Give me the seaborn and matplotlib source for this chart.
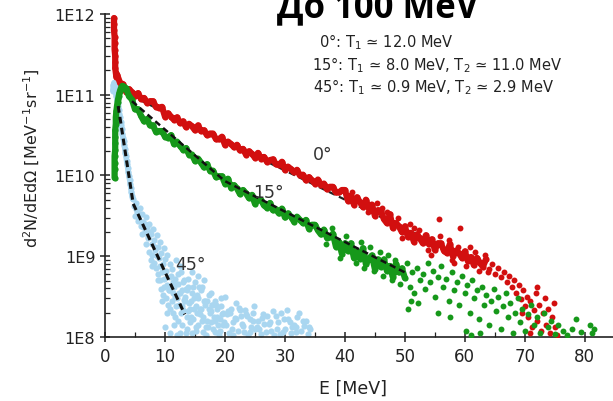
import numpy as np
import pandas as pd
import matplotlib
matplotlib.use("Agg")
import matplotlib.pyplot as plt
import seaborn as sns
from matplotlib.ticker import FixedLocator, FixedFormatter, LogLocator, NullFormatter

# ---------------- data (E in MeV, log10 of d2N/dEdOmega) ----------------
# 0 deg: dense part of the spectrum
red_band_E = [1.5, 1.5, 1.5, 1.6, 1.6, 1.6, 1.7, 1.7, 1.7, 1.8, 1.9,
              2.0, 2.5, 3.0, 3.5, 4.0, 4.5, 5.0, 5.5, 6.0, 6.5, 7.0, 7.5, 8.0, 8.5, 9.0, 9.5,
              10.0, 10.5, 11.0, 11.5, 12.0, 12.5, 13.0, 13.5, 14.0, 14.5, 15.0, 15.5, 16.0, 16.5, 17.0, 17.5, 18.0, 18.5, 19.0, 19.5,
              20.0, 20.5, 21.0, 21.5, 22.0, 22.5, 23.0, 23.5, 24.0, 24.5, 25.0, 25.5, 26.0, 26.5, 27.0, 27.5, 28.0, 28.5, 29.0, 29.5,
              30.0, 30.5, 31.0, 31.5, 32.0, 32.5, 33.0, 33.5, 34.0, 34.5, 35.0, 35.5, 36.0, 36.5, 37.0, 37.5, 38.0, 38.5, 39.0, 39.5,
              40.0, 40.5, 41.0, 41.5, 42.0, 42.5, 43.0, 43.5, 44.0, 44.5, 45.0, 45.5, 46.0, 46.5, 47.0, 47.5, 48.0, 48.5, 49.0, 49.5,
              50.0, 50.5, 51.0, 51.5, 52.0, 52.5, 53.0, 53.5, 54.0, 54.5, 55.0, 55.5, 56.0, 56.5, 57.0, 57.5, 58.0, 58.5, 59.0, 59.5,
              60.0, 60.5, 61.0, 61.5, 62.0, 62.5, 63.0, 63.5]
red_band_logI = [11.95, 11.88, 11.80, 11.72, 11.64, 11.56, 11.48, 11.40, 11.33, 11.27, 11.22,
                 11.25, 11.15, 11.13, 11.04, 11.07, 11.03, 10.98, 11.02, 10.95, 10.96, 10.90, 10.92, 10.92, 10.85, 10.84, 10.85,
                 10.73, 10.77, 10.73, 10.69, 10.72, 10.65, 10.67, 10.60, 10.64, 10.61, 10.56, 10.62, 10.55, 10.56, 10.50, 10.52, 10.52, 10.45, 10.45, 10.48,
                 10.38, 10.42, 10.39, 10.35, 10.38, 10.31, 10.33, 10.26, 10.30, 10.27, 10.22, 10.28, 10.21, 10.23, 10.17, 10.19, 10.20, 10.14, 10.13, 10.17,
                 10.07, 10.11, 10.08, 10.04, 10.07, 10.00, 10.01, 9.94, 9.98, 9.94, 9.90, 9.95, 9.88, 9.90, 9.83, 9.86, 9.86, 9.79, 9.79, 9.82,
                 9.82, 9.69, 9.75, 9.64, 9.73, 9.67, 9.61, 9.70, 9.59, 9.64, 9.50, 9.57, 9.56, 9.46, 9.41, 9.52, 9.35, 9.41, 9.37, 9.30,
                 9.37, 9.24, 9.29, 9.18, 9.27, 9.22, 9.16, 9.26, 9.15, 9.21, 9.08, 9.16, 9.16, 9.07, 9.04, 9.15, 9.00, 9.07, 9.04, 8.98,
                 9.06, 8.94, 8.99, 8.89, 8.98, 8.92, 8.87, 8.96]
# 0 deg: scattered points around the band and high-energy tail
red_scatter_E = [41.2, 43.8, 46.2, 48.8, 50.8, 52.3, 53.8, 55.7, 55.9, 57.3, 58.8, 59.2, 60.8, 61.7, 62.3, 63.3, 63.8, 58.2, 54.3, 45.3,
                 47.0, 49.6, 51.5, 57.8, 60.2,
                 64.0, 64.5, 65.0, 65.5, 66.0, 66.5, 67.0, 67.3, 67.8, 68.2, 68.6, 69.0, 69.3, 69.7, 70.0, 70.3, 70.6, 70.9, 71.2, 71.5,
                 71.8, 72.1, 72.4, 72.7, 73.0, 73.3, 73.6, 73.9, 74.2, 74.5, 74.8, 75.1, 75.4, 72.0, 70.8, 69.5]
red_scatter_logI = [9.80, 9.55, 9.60, 9.47, 9.40, 9.33, 9.08, 9.46, 9.25, 9.20, 9.12, 9.35, 9.12, 9.05, 8.82, 9.02, 8.80, 8.92, 9.02, 9.66,
                    9.55, 9.22, 9.35, 8.95, 8.88,
                    8.84, 8.90, 8.78, 8.85, 8.74, 8.80, 8.68, 8.76, 8.62, 8.70, 8.55, 8.64, 8.47, 8.58, 8.38, 8.50, 8.25, 8.44, 8.12, 8.33,
                    8.55, 8.20, 8.40, 8.08, 8.30, 8.48, 8.15, 8.35, 8.05, 8.25, 8.42, 8.12, 8.02, 8.62, 8.05, 8.30]

# 15 deg
green_band_E = [1.6, 1.6, 1.6, 1.6, 1.7, 1.7, 1.7, 1.7, 1.8, 1.8,
                1.9, 2.0, 2.1, 2.2, 2.3, 2.4, 2.5, 2.6, 2.7, 2.8, 2.9, 3.0, 3.1, 3.2, 3.3, 3.4,
                3.5, 4.0, 4.5, 5.0, 5.5, 6.0, 6.5, 7.0, 7.5, 8.0, 8.5, 9.0, 9.5,
                10.0, 10.5, 11.0, 11.5, 12.0, 12.5, 13.0, 13.5, 14.0, 14.5, 15.0, 15.5, 16.0, 16.5, 17.0, 17.5, 18.0, 18.5, 19.0, 19.5,
                20.0, 20.5, 21.0, 21.5, 22.0, 22.5, 23.0, 23.5, 24.0, 24.5, 25.0, 25.5, 26.0, 26.5, 27.0, 27.5, 28.0, 28.5, 29.0, 29.5,
                30.0, 30.5, 31.0, 31.5, 32.0, 32.5, 33.0, 33.5, 34.0, 34.5, 35.0, 35.5, 36.0, 36.5, 37.0, 37.5,
                38.0, 38.5, 39.0, 39.5, 40.0, 40.5, 41.0, 41.5, 42.0, 42.5, 43.0, 43.5, 44.0, 44.5, 45.0, 45.5, 46.0, 46.5, 47.0, 47.5,
                48.0, 48.5, 49.0, 49.5, 50.0]
green_band_logI = [9.97, 10.08, 10.16, 10.24, 10.32, 10.40, 10.48, 10.56, 10.64, 10.72,
                   10.80, 10.86, 10.91, 10.95, 10.99, 11.02, 11.05, 11.07, 11.09, 11.10, 11.11, 11.10, 11.09, 11.10, 11.08, 11.07,
                   11.08, 10.98, 10.94, 10.82, 10.82, 10.74, 10.67, 10.70, 10.62, 10.62, 10.54, 10.55, 10.55,
                   10.48, 10.47, 10.50, 10.39, 10.42, 10.37, 10.32, 10.34, 10.26, 10.26, 10.18, 10.21, 10.16, 10.10, 10.14, 10.06, 10.06, 9.98, 9.99, 9.99,
                   9.90, 9.96, 9.85, 9.88, 9.84, 9.77, 9.82, 9.78, 9.72, 9.76, 9.65, 9.70, 9.70, 9.63, 9.60, 9.66, 9.57, 9.58, 9.53, 9.59,
                   9.48, 9.53, 9.49, 9.43, 9.49, 9.45, 9.41, 9.45, 9.34, 9.39, 9.39, 9.32, 9.27, 9.33, 9.23, 9.24,
                   9.28, 9.12, 9.18, 9.03, 9.16, 9.07, 9.16, 8.98, 9.06, 8.97, 9.10, 8.90, 8.97, 9.01, 8.84, 8.96, 8.87, 8.96, 8.82, 8.88,
                   8.74, 8.91, 8.80, 8.85, 8.73]
green_scatter_E = [36.8, 37.9, 39.2, 40.2, 41.8, 42.7, 43.2, 44.2, 44.8, 45.8, 46.3, 47.2, 47.8, 48.3, 49.2, 50.3, 50.8, 51.2, 51.6, 52.0,
                   52.5, 53.0, 53.4, 53.8, 54.2, 54.7, 55.1, 55.6, 56.0, 56.4, 56.9, 57.3, 57.8, 58.2, 58.7, 59.1, 59.6, 60.0, 60.4, 60.8,
                   61.2, 61.6, 62.0, 62.4, 62.8, 63.2, 63.6, 64.0, 64.4, 64.8, 65.2, 65.6, 66.0, 66.4, 66.8, 67.2, 67.6, 68.0, 68.4, 68.8,
                   69.2, 69.6, 70.0, 70.5, 71.0, 71.5, 72.0, 72.6, 73.2, 73.8, 74.4, 75.0, 75.6, 76.3, 77.0, 77.8, 78.5, 79.4, 80.8, 81.2,
                   81.5, 60.2, 61.0, 62.5, 50.5, 51.0, 52.2, 55.5, 57.5]
green_scatter_logI = [9.15, 9.35, 8.98, 9.25, 8.92, 9.18, 8.85, 9.12, 8.82, 9.05, 8.76, 9.02, 8.70, 8.95, 8.66, 8.92, 8.62, 8.80, 8.55, 8.86,
                      8.70, 8.78, 8.60, 8.92, 8.68, 8.82, 8.50, 8.74, 8.88, 8.62, 8.72, 8.45, 8.80, 8.58, 8.68, 8.40, 8.75, 8.55, 8.64, 8.30,
                      8.70, 8.48, 8.58, 8.22, 8.62, 8.40, 8.52, 8.15, 8.45, 8.60, 8.32, 8.50, 8.10, 8.38, 8.55, 8.25, 8.42, 8.05, 8.30, 8.48,
                      8.18, 8.35, 8.08, 8.28, 8.40, 8.15, 8.25, 8.05, 8.30, 8.12, 8.20, 8.04, 8.15, 8.08, 8.02, 8.10, 8.22, 8.06, 8.15, 8.05,
                      8.10, 8.08, 8.02, 8.05, 8.35, 8.45, 8.42, 8.30, 8.25]

# 45 deg
blue_band_E = [1.3, 1.4, 1.5, 1.6, 1.7, 1.8, 1.9, 2.0, 2.1, 2.2,
               2.3, 2.4, 2.5, 2.6, 2.7, 2.8, 2.9, 3.0, 3.1, 3.2, 3.3, 3.4, 3.5, 3.6, 3.7, 3.8, 3.9, 4.0, 4.1, 4.2, 4.3, 4.4, 4.5, 4.6]
blue_band_logI = [11.05, 11.12, 11.15, 11.13, 11.08, 11.02, 10.98, 10.93, 10.90, 10.86,
                  10.81, 10.76, 10.72, 10.66, 10.62, 10.57, 10.52, 10.47, 10.43, 10.38, 10.33, 10.28, 10.24, 10.18, 10.14, 10.09, 10.04, 9.99, 9.95, 9.90, 9.85, 9.80, 9.75, 9.71]
blue_scatter_E = [4.8, 5.0, 5.2, 5.4, 5.6, 5.8, 6.0, 6.2, 6.4, 6.6, 6.8, 7.0, 7.2, 7.4, 7.6, 7.8, 8.0, 8.2, 8.4, 8.6,
                  8.8, 9.0, 9.2, 9.4, 9.6, 9.8, 10.0, 10.2, 10.4, 10.6, 10.8, 11.0, 11.2, 11.4, 11.6, 11.8, 12.0, 12.2, 12.4, 12.6,
                  12.8, 13.0, 13.2, 13.4, 13.6, 13.8, 14.0, 14.2, 14.5, 14.8, 15.0, 15.2, 15.5, 15.8, 16.0, 16.3, 16.6, 17.0, 17.3, 17.6,
                  18.0, 18.3, 18.7, 19.0, 19.3, 19.7, 20.0, 20.3, 20.7, 21.0, 21.4, 21.8, 22.2, 22.6, 23.0, 23.4, 23.8, 24.2, 24.6, 25.0,
                  25.5, 26.0, 26.5, 27.0, 27.6, 28.2, 28.8, 29.4, 30.0, 30.5, 31.0, 31.5, 32.0, 32.6, 33.2, 33.8,
                  10.3, 11.5, 12.5, 9.5, 8.8, 7.9, 13.5, 14.5, 15.5, 16.5, 12.5,
                  5.1, 5.5, 5.9, 6.3, 6.7, 7.1, 7.5, 7.9, 8.3, 8.7, 9.1, 9.5, 9.9, 10.3, 10.7, 11.1, 11.5, 11.9, 12.3, 12.7,
                  13.1, 13.5, 13.9, 14.3, 14.7, 15.1, 15.5, 15.9, 16.3, 16.7, 17.1, 17.5, 17.9, 18.3, 18.7, 19.1, 19.5, 19.9,
                  20.5, 21.1, 21.7, 22.3, 22.9, 23.5, 24.1, 24.7, 25.3, 26.2, 27.3, 28.5, 29.7, 30.8, 31.8, 33.0, 34.2,
                  9.3, 9.7, 10.1, 10.5, 10.9, 11.3, 11.7, 12.1, 12.5, 12.9, 13.3, 13.7, 14.1, 14.5, 14.9, 15.3, 15.7, 16.1, 16.5, 16.9,
                  17.3, 17.7, 18.1, 18.5, 18.9, 19.3, 19.7,
                  10.0, 10.8, 11.6, 12.0, 12.8, 13.6, 14.4, 15.2, 16.0, 16.8, 17.6, 18.4, 19.2, 20.1, 20.9, 21.3, 21.9, 22.5, 23.1, 23.7,
                  24.3, 24.9, 25.7, 26.3, 26.8, 27.5, 28.0, 28.6, 29.2, 29.9, 30.4, 31.2, 31.9, 32.4, 33.5, 34.0,
                  6.1, 6.9, 7.3, 7.7, 8.1, 8.5, 8.9, 9.2, 9.9, 10.6, 11.0, 11.4, 12.2, 13.0, 13.8, 14.6, 15.4, 16.2, 17.0, 17.8]
blue_scatter_logI = [9.62, 9.50, 9.66, 9.55, 9.45, 9.60, 9.38, 9.52, 9.42, 9.30, 9.48, 9.36, 9.22, 9.40, 9.28, 9.15, 9.34, 9.20, 9.08, 9.26,
                     9.12, 8.98, 9.18, 9.04, 8.90, 9.10, 8.96, 8.82, 9.02, 8.74, 8.90, 8.62, 8.84, 8.55, 8.72, 8.95, 8.48, 8.66, 8.40, 8.80,
                     8.58, 8.34, 8.70, 8.50, 8.25, 8.62, 8.42, 8.18, 8.55, 8.35, 8.68, 8.12, 8.48, 8.28, 8.58, 8.06, 8.40, 8.20, 8.52, 8.32,
                     8.10, 8.45, 8.25, 8.02, 8.38, 8.15, 8.50, 8.28, 8.05, 8.35, 8.18, 8.42, 8.08, 8.26, 8.14, 8.34, 8.03, 8.22, 8.30, 8.10,
                     8.20, 8.04, 8.16, 8.26, 8.08, 8.02, 8.18, 8.30, 8.10, 8.22, 8.05, 8.15, 8.25, 8.08, 8.14, 8.04,
                     8.30, 8.15, 8.05, 8.45, 8.70, 8.88, 8.05, 8.80, 8.75, 8.70, 8.88,
                     9.58, 9.44, 9.52, 9.36, 9.40, 9.25, 9.30, 9.02, 9.12, 9.00, 8.88, 8.80, 8.72, 8.65, 8.58, 8.45, 8.62, 8.38, 8.55, 8.30,
                     8.46, 8.60, 8.32, 8.45, 8.22, 8.38, 8.15, 8.35, 8.25, 8.44, 8.12, 8.30, 8.40, 8.20, 8.35, 8.08, 8.28, 8.18,
                     8.32, 8.10, 8.24, 8.36, 8.16, 8.28, 8.06, 8.20, 8.12, 8.24, 8.16, 8.26, 8.06, 8.18, 8.12, 8.20, 8.10,
                     8.60, 8.52, 8.48, 8.40, 8.35, 8.30, 8.25, 8.20, 8.55, 8.15, 8.45, 8.10, 8.35, 8.05, 8.48, 8.30, 8.62, 8.20, 8.45, 8.12,
                     8.35, 8.55, 8.25, 8.40, 8.15, 8.48, 8.30,
                     8.12, 8.05, 8.50, 8.02, 8.38, 8.58, 8.25, 8.08, 8.35, 8.02, 8.18, 8.06, 8.22, 8.15, 8.30, 8.02, 8.22, 8.34, 8.06, 8.26,
                     8.12, 8.38, 8.10, 8.28, 8.06, 8.18, 8.32, 8.10, 8.04, 8.22, 8.34, 8.12, 8.06, 8.30, 8.20, 8.12,
                     9.28, 9.15, 9.05, 8.95, 8.92, 8.85, 8.78, 8.70, 8.62, 8.58, 8.75, 8.68, 8.78, 8.68, 8.72, 8.62, 8.52, 8.62, 8.44, 8.40]

# dashed fit lines (T values in legend)
fit0_E = [4.0, 60.0]
fit0_logI = [11.00, 8.98]
fit15_E = [4.5, 20.0, 50.0]
fit15_logI = [10.92, 9.93, 8.80]
fit45_E = [2.2, 4.7, 13.3]
fit45_logI = [10.86, 9.65, 8.28]

ytick_vals = [1e8, 1e9, 1e10, 1e11, 1e12]
ytick_labels = ["1E8", "1E9", "1E10", "1E11", "1E12"]
xtick_vals = [0, 10, 20, 30, 40, 50, 60, 70, 80]
xtick_minor = [5, 15, 25, 35, 45, 55, 65, 75]

legend_lines = ["0°: T$_1$ ≃ 12.0 MeV",
                "15°: T$_1$ ≃ 8.0 MeV, T$_2$ ≃ 11.0 MeV",
                "45°: T$_1$ ≃ 0.9 MeV, T$_2$ ≃ 2.9 MeV"]
curve_labels = ["0°", "15°", "45°"]
curve_label_E = [36.3, 27.2, 14.2]
curve_label_logI = [10.27, 9.80, 8.90]

# ---------------- style ----------------
sns.set_style("ticks")
plt.rcParams["font.family"] = ["DejaVu Sans"]
plt.rcParams["mathtext.default"] = "regular"

RED = "#d20f0f"
GREEN = "#16981a"
BLUE = "#a9d6f0"

def frame(E, logI):
    return pd.DataFrame({"E": E, "I": np.power(10.0, np.asarray(logI))})

fig = plt.figure(figsize=(6.13, 4.02), dpi=100)
ax = fig.add_axes([0.1713, 0.1592, 0.8287, 0.8035])
ax.set_yscale("log")

def band(E, logI, color, lw, z):
    sns.lineplot(data=frame(E, logI), x="E", y="I", color=color, linewidth=lw,
                 sort=False, estimator=None, ax=ax, zorder=z, legend=False)

def dots(E, logI, color, size, z):
    sns.scatterplot(data=frame(E, logI), x="E", y="I", color=color, s=size,
                    linewidth=0, ax=ax, zorder=z, legend=False)

# 45 deg
band(blue_band_E, blue_band_logI, BLUE, 4.0, 2)
dots(blue_band_E, blue_band_logI, BLUE, 20, 2)
dots(blue_scatter_E, blue_scatter_logI, BLUE, 20, 2)
# 0 deg fit (mostly hidden under the band)
sns.lineplot(data=frame(fit0_E, fit0_logI), x="E", y="I", color="#222222",
             linestyle=(0, (3, 2)), linewidth=1.6, ax=ax, zorder=2.5)
# 0 deg
band(red_band_E, red_band_logI, RED, 4.5, 3)
dots(red_band_E, red_band_logI, RED, 20, 3)
dots(red_scatter_E, red_scatter_logI, RED, 18, 3)
# 15 deg
band(green_band_E, green_band_logI, GREEN, 4.5, 4)
dots(green_band_E, green_band_logI, GREEN, 20, 4)
dots(green_scatter_E, green_scatter_logI, GREEN, 18, 4)
# fits on top
sns.lineplot(data=frame(fit15_E, fit15_logI), x="E", y="I", color="#111111",
             linestyle=(0, (2.5, 1.6)), linewidth=1.8, ax=ax, zorder=5)
sns.lineplot(data=frame(fit45_E, fit45_logI), x="E", y="I", color="#111111",
             linestyle=(0, (2.2, 1.4)), linewidth=2.2, ax=ax, zorder=5)

ax.set_xlim(0, 84.7)
ax.set_ylim(1e8, 1e12)

ax.yaxis.set_major_locator(FixedLocator(ytick_vals))
ax.yaxis.set_major_formatter(FixedFormatter(ytick_labels))
ax.yaxis.set_minor_locator(LogLocator(base=10, subs=(2, 3, 4, 5, 6, 7, 8, 9)))
ax.yaxis.set_minor_formatter(NullFormatter())
ax.xaxis.set_major_locator(FixedLocator(xtick_vals))
ax.xaxis.set_minor_locator(FixedLocator(xtick_minor))

for s in ["top", "right"]:
    ax.spines[s].set_visible(False)
for s in ["left", "bottom"]:
    ax.spines[s].set_color("#222222")
    ax.spines[s].set_linewidth(1.2)

ax.tick_params(axis="both", which="major", direction="inout", length=7, width=1.1,
               color="#222222", labelcolor="#222222")
ax.tick_params(axis="y", which="major", labelsize=11.5)
ax.tick_params(axis="x", which="major", labelsize=12)
ax.tick_params(axis="both", which="minor", direction="in", length=3.5, width=0.9,
               color="#222222")

ax.set_xlabel("E [MeV]", fontsize=12.5, color="#222222")
ax.xaxis.label.set_va("center")
ax.xaxis.set_label_coords(0.488, -0.158)
ax.set_ylabel("d$^2$N/dEdΩ [MeV$^{-1}$sr$^{-1}$]", fontsize=11.5, color="#222222")
ax.yaxis.label.set_va("center")
ax.yaxis.set_label_coords(-0.144, 0.557)

for txt, e, li in zip(curve_labels, curve_label_E, curve_label_logI):
    ax.text(e, 10 ** li, txt, fontsize=12.5, color="#333333", ha="center", va="center", zorder=6)

leg_x = [319, 312, 313]
leg_y = [42, 65, 87]
for txt, px, py in zip(legend_lines, leg_x, leg_y):
    fig.text(px / 613, 1 - py / 402, txt, fontsize=10.5, color="#222222", ha="left", va="center")

fig.text(378 / 613, 1 - 17 / 402, "До 100 MeV", ha="center", va="baseline",
         fontsize=25, fontweight="bold", family=["Open Sans", "DejaVu Sans"], color="black")

fig.savefig("out.png", dpi=100)
